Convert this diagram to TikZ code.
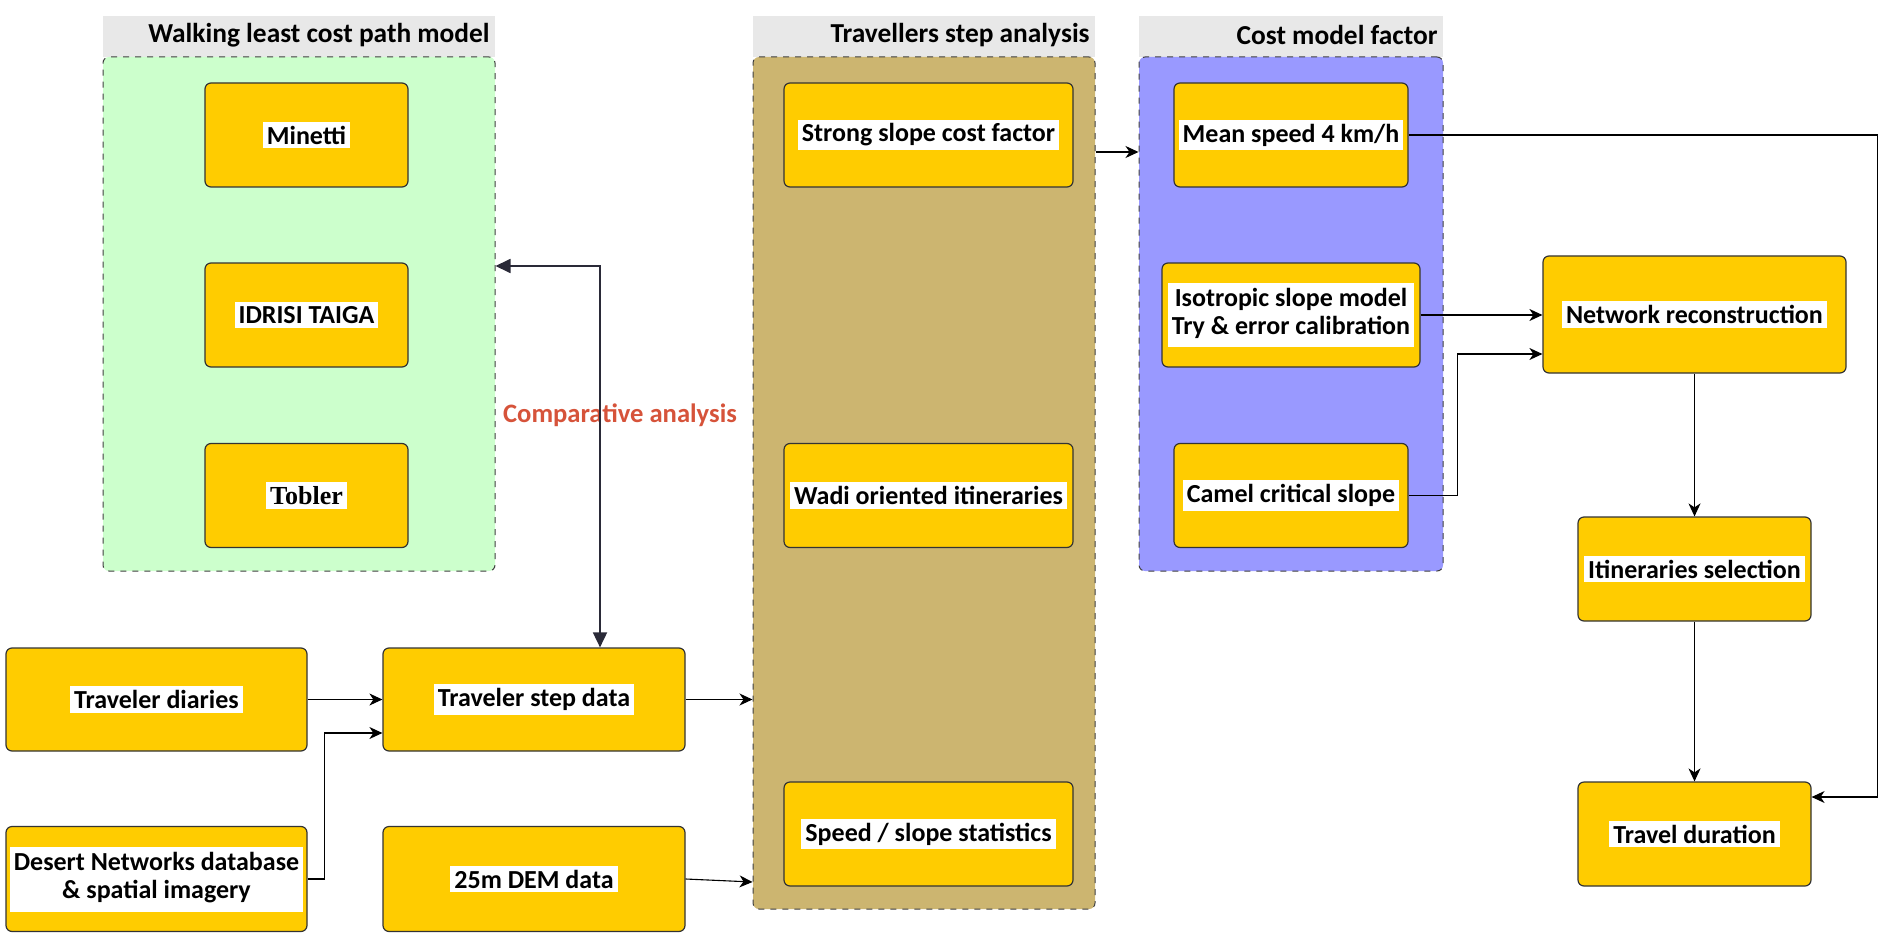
\documentclass[tikz,border=0pt]{standalone}
\usepackage{fontspec}
\setmainfont{Carlito}
\newfontfamily\tobfont{Liberation Serif}
\usetikzlibrary{arrows.meta}

\definecolor{boxfill}{RGB}{255,204,0}
\definecolor{walkfill}{RGB}{204,255,204}
\definecolor{travfill}{RGB}{204,181,112}
\definecolor{costfill}{RGB}{153,153,255}
\definecolor{titlefill}{RGB}{232,232,232}
\definecolor{cmpred}{RGB}{214,83,58}
\definecolor{cmpline}{RGB}{42,42,56}

\newcommand{\lbl}[1]{{\setlength{\fboxsep}{2pt}\colorbox{white}{#1}}}
\newcommand{\lbll}[2]{{\setlength{\fboxsep}{2pt}\renewcommand{\arraystretch}{0.95}\colorbox{white}{\begin{tabular}{@{}c@{}}#1\\#2\end{tabular}}}}

\begin{document}
\begin{tikzpicture}[x=0.5pt,y=0.5pt,yscale=-1,
    font=\fontsize{13}{15}\selectfont\bfseries,
    stepbox/.style={draw=black!80, fill=boxfill, rounded corners=3pt, line width=0.6pt, minimum height=52pt, inner sep=0pt, align=center},
    groupbox/.style={draw=black!75, dashed, rounded corners=3pt, line width=0.5pt, inner sep=0pt},
    titletext/.style={anchor=east, inner sep=0pt, font=\fontsize{13.7}{15}\selectfont\bfseries},
    arr/.style={-{Stealth[length=6.5pt,width=6pt,inset=2pt]}, line width=0.55pt},
    cmp/.style={{Triangle[length=7.5pt,width=7pt]}-{Triangle[length=7.5pt,width=7pt]}, draw=cmpline, line width=0.9pt}]
    \useasboundingbox (0,0) rectangle (1883,936);

    % Title bars
    \fill[titlefill] (103,16) rectangle (495,57);
    \fill[titlefill] (753,16) rectangle (1095,57);
    \fill[titlefill] (1139,16) rectangle (1443,57);
    \node[titletext] (walktitle) at (490,35) {Walking least cost path model};
    \node[titletext] (travtitle) at (1090,35) {Travellers step analysis};
    \node[titletext] (costtitle) at (1438,35) {Cost model factor};

    % Groups
    \node[groupbox, fill=walkfill, minimum width=196pt, minimum height=257pt] (walk) at (299,314) {};
    \node[groupbox, fill=travfill, minimum width=171pt, minimum height=426pt] (trav) at (924,483) {};
    \node[groupbox, fill=costfill, minimum width=152pt, minimum height=257pt] (cost) at (1291,314) {};

    % Walking least cost path model
    \node[stepbox, minimum width=101.5pt] (minetti) at (306.5,135) {\lbl{Minetti}};
    \node[stepbox, minimum width=101.5pt] (idrisi) at (306.5,315) {\lbl{IDRISI TAIGA}};
    \node[stepbox, minimum width=101.5pt] (tobler) at (306.5,495.5) {\lbl{\tobfont\bfseries Tobler}};

    % Travellers step analysis
    \node[stepbox, minimum width=144.5pt] (strong) at (928.5,135) {\lbl{Strong slope cost factor}};
    \node[stepbox, minimum width=144.5pt] (wadi) at (928.5,495.5) {\lbl{Wadi oriented itineraries}};
    \node[stepbox, minimum width=144.5pt] (speed) at (928.5,834) {\lbl{Speed / slope statistics}};

    % Cost model factor
    \node[stepbox, minimum width=117pt] (mean) at (1291,135) {\lbl{Mean speed 4 km/h}};
    \node[stepbox, minimum width=129pt] (iso) at (1291,315) {\lbll{Isotropic slope model}{Try \& error calibration}};
    \node[stepbox, minimum width=117pt] (camel) at (1291,495.5) {\lbl{Camel critical slope}};

    % Right column
    \node[stepbox, minimum width=151.5pt, minimum height=58.5pt] (net) at (1694.5,314.5) {\lbl{Network reconstruction}};
    \node[stepbox, minimum width=116.5pt] (itin) at (1694.5,569) {\lbl{Itineraries selection}};
    \node[stepbox, minimum width=116.5pt] (dur) at (1694.5,834) {\lbl{Travel duration}};

    % Data
    \node[stepbox, minimum width=150.5pt, minimum height=51.5pt] (diaries) at (156.5,699.5) {\lbl{Traveler diaries}};
    \node[stepbox, minimum width=151pt, minimum height=51.5pt] (stepdata) at (534,699.5) {\lbl{Traveler step data}};
    \node[stepbox, minimum width=150.5pt, minimum height=52.5pt] (desert) at (156.5,879) {\lbll{Desert Networks database}{\& spatial imagery}};
    \node[stepbox, minimum width=151pt, minimum height=52.5pt] (dem) at (534,879) {\lbl{25m DEM data}};

    % Text Node
    \node[text=cmpred, inner sep=0pt, font=\fontsize{13.3}{15}\selectfont\bfseries] (cmplabel) at (620,415) {Comparative analysis};

    % Connectors
    \coordinate (walkin) at (walk.east |- 0,266);
    \draw[cmp] (walkin) -| ([xshift=33pt]stepdata.north);
    \draw[arr] (diaries) -- (stepdata);
    \draw[arr] (desert.east) -- ++(17,0) |- ([yshift=16.75pt]stepdata.west);
    \draw[arr] (stepdata.east) -- (stepdata.east -| trav.west);
    \draw[arr] (dem.east) -- ([yshift=1.5pt]dem.east -| trav.west);
    \draw[arr] ([yshift=8.5pt]strong.east -| trav.east) -- ([yshift=8.5pt]strong.east -| cost.west);
    \draw[arr] (mean.east) -- ++(469,0) |- ([yshift=-18.5pt]dur.east);
    \draw[arr] (iso.east) -- (iso.east -| net.west);
    \draw[arr] (camel.east) -- ++(49,0) |- ([yshift=19.75pt]net.west);
    \draw[arr] (net) -- (itin);
    \draw[arr] (itin) -- (dur);

\end{tikzpicture}
\end{document}
